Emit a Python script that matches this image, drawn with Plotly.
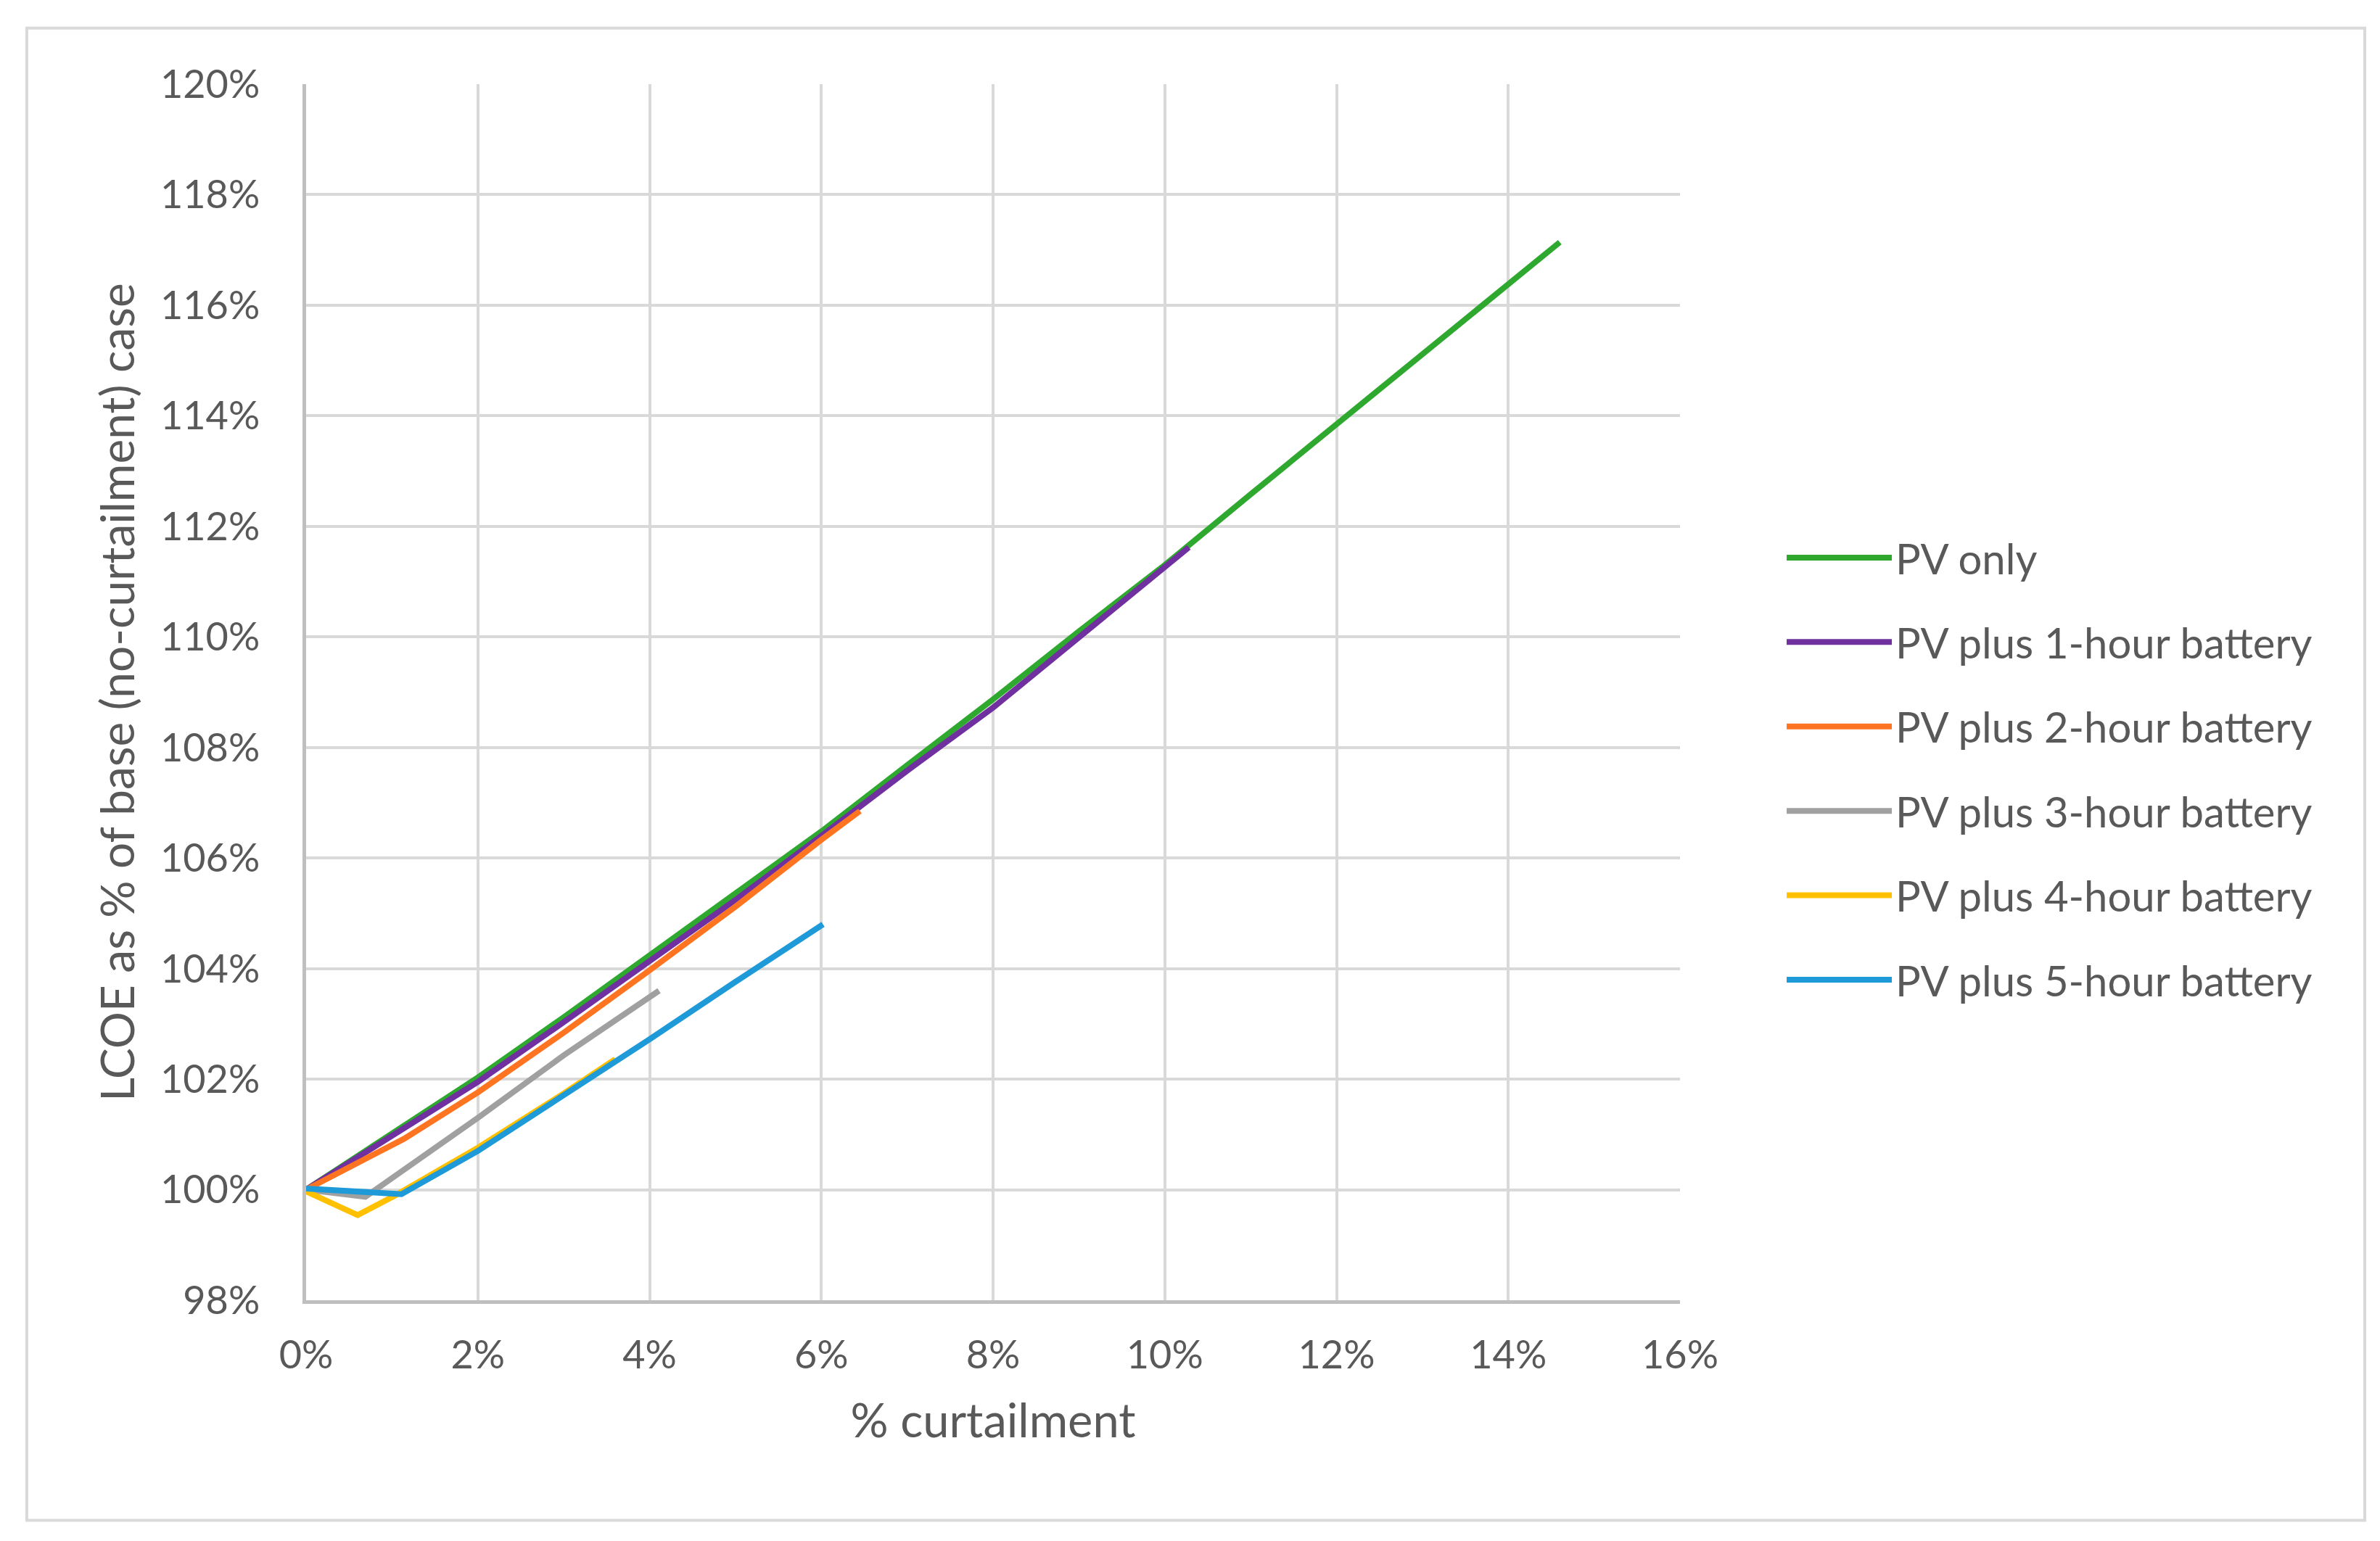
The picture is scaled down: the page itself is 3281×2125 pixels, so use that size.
import plotly.graph_objects as go

# ---------------- data ----------------
series_names = [
    "PV only",
    "PV plus 1-hour battery",
    "PV plus 2-hour battery",
    "PV plus 3-hour battery",
    "PV plus 4-hour battery",
    "PV plus 5-hour battery",
]
series_colors = ["#2ea82e", "#7030a0", "#ff7420", "#a0a0a0", "#ffc000", "#1f9ad8"]

pv_only_x = [0, 1, 2, 3, 4, 5, 6, 7, 8, 9, 10, 11, 12, 13, 14, 14.6]
pv_only_y = [100.0, 101.0, 102.03, 103.12, 104.23, 105.34, 106.48, 107.68, 108.87,
             110.1, 111.3, 112.58, 113.85, 115.12, 116.38, 117.14]

pv_1h_x = [0, 1, 2, 3, 4, 5, 6, 7, 8, 9, 10, 10.28]
pv_1h_y = [100.0, 100.97, 101.95, 103.03, 104.12, 105.24, 106.4, 107.58, 108.72,
           110.0, 111.26, 111.62]

pv_2h_x = [0, 1.14, 2, 3, 4, 5, 6, 6.45]
pv_2h_y = [100.0, 100.92, 101.76, 102.84, 103.97, 105.12, 106.33, 106.85]

pv_3h_x = [0, 0.69, 2, 3, 4.11]
pv_3h_y = [100.0, 99.87, 101.3, 102.43, 103.6]

pv_4h_x = [0, 0.6, 1.03, 2, 3, 3.6]
pv_4h_y = [99.97, 99.54, 99.89, 100.76, 101.74, 102.36]

pv_5h_x = [0, 1.11, 2, 3, 4, 5, 6.02]
pv_5h_y = [100.02, 99.92, 100.7, 101.7, 102.72, 103.76, 104.8]

xs = [pv_only_x, pv_1h_x, pv_2h_x, pv_3h_x, pv_4h_x, pv_5h_x]
ys = [pv_only_y, pv_1h_y, pv_2h_y, pv_3h_y, pv_4h_y, pv_5h_y]

x_tick_vals = [0, 2, 4, 6, 8, 10, 12, 14, 16]
x_tick_text = ["0%", "2%", "4%", "6%", "8%", "10%", "12%", "14%", "16%"]
y_tick_vals = [98, 100, 102, 104, 106, 108, 110, 112, 114, 116, 118, 120]
y_tick_text = ["98%", "100%", "102%", "104%", "106%", "108%", "110%", "112%",
               "114%", "116%", "118%", "120%"]

x_title = "% curtailment"
y_title = "LCOE as % of base (no-curtailment) case"

# ---------------- figure ----------------
FONT = "Lato, 'Open Sans', sans-serif"
TXT = "#595959"

fig = go.Figure()
for i, (name, col) in enumerate(zip(series_names, series_colors)):
    fig.add_trace(go.Scatter(
        x=xs[i], y=ys[i], mode="lines", name=name,
        legendgroup=f"g{i}",
        line=dict(color=col, width=8),
    ))

fig.update_layout(
    width=3281, height=2125,
    paper_bgcolor="white", plot_bgcolor="white",
    margin=dict(l=414, r=973, t=108, b=340, autoexpand=False),
    font=dict(family=FONT, color=TXT, size=54),
    showlegend=True,
    legend=dict(
        x=1.075, y=0.637, xanchor="left", yanchor="top",
        font=dict(size=58, color=TXT, family=FONT),
        tracegroupgap=38,
        itemwidth=145,
        bgcolor="rgba(0,0,0,0)",
    ),
    shapes=[dict(
        type="rect", xref="paper", yref="paper",
        x0=-0.2033, x1=1.4984, y0=-0.181, y1=1.046,
        line=dict(color="#d9d9d9", width=4), fillcolor="rgba(0,0,0,0)",
        layer="below",
    )],
)

fig.update_xaxes(
    range=[0, 16], tickmode="array", tickvals=x_tick_vals, ticktext=x_tick_text,
    showgrid=True, gridcolor="#d9d9d9", gridwidth=4,
    showline=True, linecolor="#bfbfbf", linewidth=5,
    zeroline=False, ticks="",
    tickfont=dict(size=54, color=TXT, family=FONT),
    ticklabelstandoff=24,
    title=dict(text=x_title, font=dict(size=65, color=TXT, family=FONT), standoff=40),
)
fig.update_yaxes(
    range=[98, 120], tickmode="array", tickvals=y_tick_vals, ticktext=y_tick_text,
    showgrid=True, gridcolor="#d9d9d9", gridwidth=4,
    showline=True, linecolor="#bfbfbf", linewidth=5,
    zeroline=False, ticks="",
    tickfont=dict(size=54, color=TXT, family=FONT),
    ticklabelstandoff=48,
    title=dict(text=y_title, font=dict(size=64, color=TXT, family=FONT), standoff=16),
)

fig.write_html("out.html")
